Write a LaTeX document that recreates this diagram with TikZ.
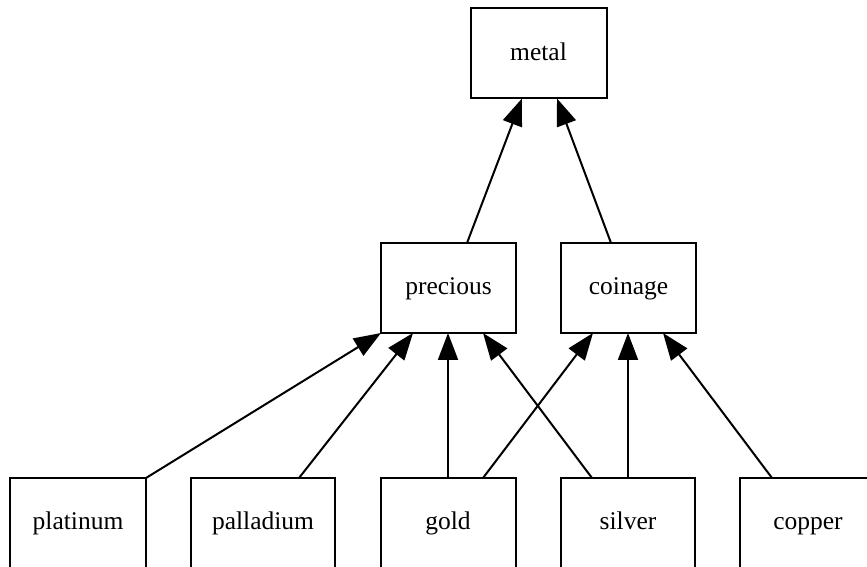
\documentclass[tikz,border=0pt]{standalone}
\usepackage{fontspec}
\setmainfont{Liberation Serif}
\usetikzlibrary{arrows.meta}
\begin{document}
\begin{tikzpicture}[x=1pt,y=1pt,
  box/.style={draw, line width=2pt, rectangle, minimum height=90pt, inner sep=0pt, outer sep=0pt, text height=14pt, text depth=0pt, font=\fontsize{25.5}{30}\selectfont},
  edge/.style={line width=2pt, -{Triangle[length=27pt,width=20pt]}}]
\useasboundingbox (0,0) rectangle (867,567);
\clip (0,0) rectangle (867,567);
\node[box, minimum width=136pt] (metal) at (538.5,513.5) {metal};
\node[box, minimum width=135pt] (precious) at (448.5,279) {precious};
\node[box, minimum width=135pt] (coinage) at (628.5,279) {coinage};
\node[box, minimum width=136pt] (platinum) at (78,44) {platinum};
\node[box, minimum width=144pt] (palladium) at (263,44) {palladium};
\node[box, minimum width=135pt] (gold) at (448,44) {gold};
\node[box, minimum width=134pt] (silver) at (628,44) {silver};
\node[box, minimum width=136pt] (copper) at (808,44) {copper};
\draw[edge] (platinum.north east) -- (precious.south west);
\draw[edge] ([xshift=36pt]palladium.north) -- ([xshift=-35.5pt]precious.south);
\draw[edge] (gold.north) -- ([xshift=-0.5pt]precious.south);
\draw[edge] ([xshift=-36pt]silver.north) -- ([xshift=34.5pt]precious.south);
\draw[edge] ([xshift=35pt]gold.north) -- ([xshift=-35.5pt]coinage.south);
\draw[edge] (silver.north) -- ([xshift=-0.5pt]coinage.south);
\draw[edge] ([xshift=-36pt]copper.north) -- ([xshift=34.5pt]coinage.south);
\draw[edge] ([xshift=18.5pt]precious.north) -- ([xshift=-16.5pt]metal.south);
\draw[edge] ([xshift=-17.5pt]coinage.north) -- ([xshift=18.5pt]metal.south);
\end{tikzpicture}
\end{document}
